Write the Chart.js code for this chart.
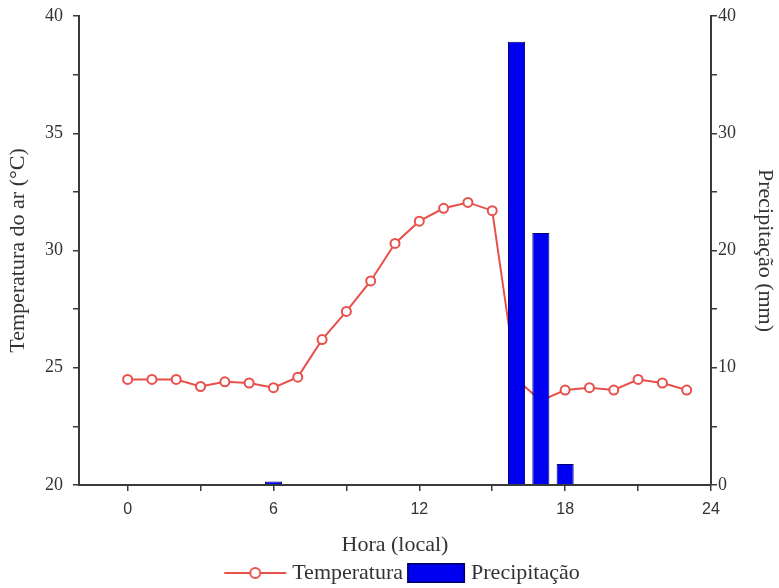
<!DOCTYPE html>
<html><head><meta charset="utf-8">
<script src="https://cdn.jsdelivr.net/npm/chart.js@4/dist/chart.umd.min.js"></script>
<style>html,body{margin:0;padding:0;background:#fff}#wrap{width:779px;height:588px;position:relative}canvas{display:block}</style>
</head><body><div id="wrap"><canvas id="c" width="779" height="588" style="width:779px;height:588px"></canvas></div>
<script>
// ---- data ----
const hours = [0,1,2,3,4,5,6,7,8,9,10,11,12,13,14,15,16,17,18,19,20,21,22,23];
const temperature = [24.5,24.5,24.5,24.2,24.4,24.35,24.15,24.6,26.2,27.4,28.7,30.3,31.25,31.8,32.05,31.7,24.5,23.6,24.05,24.15,24.05,24.5,24.35,24.05];
const rainHours = [6,16,17,18];
const rainfall = [0.3,37.8,21.5,1.8];
const xMajorTicks = [0,6,12,18,24];
const xMinorTicks = [3,9,15,21];
const tempMajorTicks = [20,25,30,35,40];
const tempMinorTicks = [22.5,27.5,32.5,37.5];
const rainMajorTicks = [0,10,20,30,40];
const rainMinorTicks = [5,15,25,35];
const seriesNames = ['Temperatura','Precipitação'];
const axisTitles = {x:'Hora (local)', y:'Temperatura do ar (°C)', y1:'Precipitação (mm)'};

const RED = '#e8504c', BLUE = '#0000f0', AXIS = '#3a3a3a', TXT = '#333';
const SERIF = '"Liberation Serif","Times New Roman",serif';
const SANS = '"Liberation Sans",Arial,sans-serif';
const LEGEND_SHIFT_X = 15;

function ticksFrom(major, minor){
  return major.concat(minor).sort((a,b)=>a-b).map(v=>({value:v}));
}
function majorLabel(major){ return v => major.includes(v) ? String(v) : ''; }

// legend symbols
function lineSymbol(){
  const c = document.createElement('canvas'); c.width = 64; c.height = 16;
  const g = c.getContext('2d');
  g.strokeStyle = RED; g.lineWidth = 2;
  g.beginPath(); g.moveTo(1,8); g.lineTo(63,8); g.stroke();
  g.fillStyle = '#fff'; g.beginPath(); g.arc(32,8,5,0,Math.PI*2); g.fill(); g.stroke();
  return c;
}
function boxSymbol(){
  const c = document.createElement('canvas'); c.width = 64; c.height = 20;
  const g = c.getContext('2d');
  g.fillStyle = BLUE; g.fillRect(5,0,58,20);
  g.strokeStyle = '#000060'; g.lineWidth = 1.5; g.strokeRect(5.75,0.75,56.5,18.5);
  return c;
}
const lineSym = lineSymbol(), boxSym = boxSymbol();

const legendShift = {
  id: 'legendShift',
  afterLayout(chart){
    const lg = chart.legend;
    if (lg) { lg.left += LEGEND_SHIFT_X; lg.right += LEGEND_SHIFT_X; }
  }
};

new Chart(document.getElementById('c'), {
  type: 'bar',
  plugins: [legendShift],
  data: {
    datasets: [
      {
        type: 'line', label: seriesNames[0],
        data: hours.map((h,i)=>({x:h, y:temperature[i]})),
        yAxisID: 'y', order: 2,
        borderColor: RED, borderWidth: 2,
        pointRadius: 4.5, pointBorderWidth: 2, pointBackgroundColor: '#fff', pointBorderColor: RED,
        tension: 0
      },
      {
        type: 'bar', label: seriesNames[1],
        data: rainHours.map((h,i)=>({x:h, y:rainfall[i]})),
        yAxisID: 'y1', order: 1,
        backgroundColor: BLUE, borderColor: '#000070', borderWidth: 1,
        barPercentage: 0.9, categoryPercentage: 0.78
      }
    ]
  },
  options: {
    responsive: false, animation: false,
    layout: { padding: { top: 16, left: 0, right: 0, bottom: -6 } },
    plugins: {
      tooltip: { enabled: false },
      legend: {
        position: 'bottom',
        labels: {
          usePointStyle: true,
          pointStyleWidth: 52,
          font: { family: SERIF, size: 22 },
          color: TXT,
          padding: 5,
          generateLabels: () => [
            { text: seriesNames[0], pointStyle: lineSym, fillStyle: RED, strokeStyle: RED, lineWidth: 0, datasetIndex: 0, fontColor: TXT },
            { text: seriesNames[1], pointStyle: boxSym, fillStyle: BLUE, strokeStyle: BLUE, lineWidth: 0, datasetIndex: 1, fontColor: TXT }
          ]
        }
      }
    },
    scales: {
      x: {
        type: 'linear', min: -2, max: 24, offset: false,
        afterBuildTicks: s => { s.ticks = ticksFrom(xMajorTicks, xMinorTicks); },
        afterFit: s => { s.height = 72; },
        ticks: { autoSkip: false, maxRotation: 0, callback: majorLabel(xMajorTicks), font: { family: SANS, size: 16 }, color: TXT, padding: 9 },
        grid: { offset: false, drawOnChartArea: false, drawTicks: true, tickLength: 6, color: AXIS, lineWidth: 1.5 },
        border: { display: true, color: AXIS, width: 2 },
        title: { display: true, text: axisTitles.x, font: { family: SERIF, size: 22 }, color: TXT, padding: { top: 4, bottom: -1 } }
      },
      y: {
        type: 'linear', position: 'left', min: 20, max: 40,
        afterBuildTicks: s => { s.ticks = ticksFrom(tempMajorTicks, tempMinorTicks); },
        afterFit: s => { s.width = 79; s.paddingTop = 0; s.paddingBottom = 0; },
        ticks: { autoSkip: false, callback: majorLabel(tempMajorTicks), font: { family: SERIF, size: 18 }, color: TXT, padding: 10 },
        grid: { drawOnChartArea: false, drawTicks: true, tickLength: 6, color: AXIS, lineWidth: 1.5 },
        border: { display: true, color: AXIS, width: 2 },
        title: { display: true, text: axisTitles.y, font: { family: SERIF, size: 22 }, color: TXT, padding: { top: 5, bottom: 0 } }
      },
      y1: {
        type: 'linear', position: 'right', min: 0, max: 40,
        afterBuildTicks: s => { s.ticks = ticksFrom(rainMajorTicks, rainMinorTicks); },
        afterFit: s => { s.width = 68; s.paddingTop = 0; s.paddingBottom = 0; },
        ticks: { autoSkip: false, callback: majorLabel(rainMajorTicks), font: { family: SERIF, size: 18 }, color: TXT, padding: 1 },
        grid: { drawOnChartArea: false, drawTicks: true, tickLength: 6, color: AXIS, lineWidth: 1.5 },
        border: { display: true, color: AXIS, width: 2 },
        title: { display: true, text: axisTitles.y1, font: { family: SERIF, size: 22 }, color: TXT, padding: { top: 1, bottom: 0 } }
      }
    }
  }
});
</script></body></html>
